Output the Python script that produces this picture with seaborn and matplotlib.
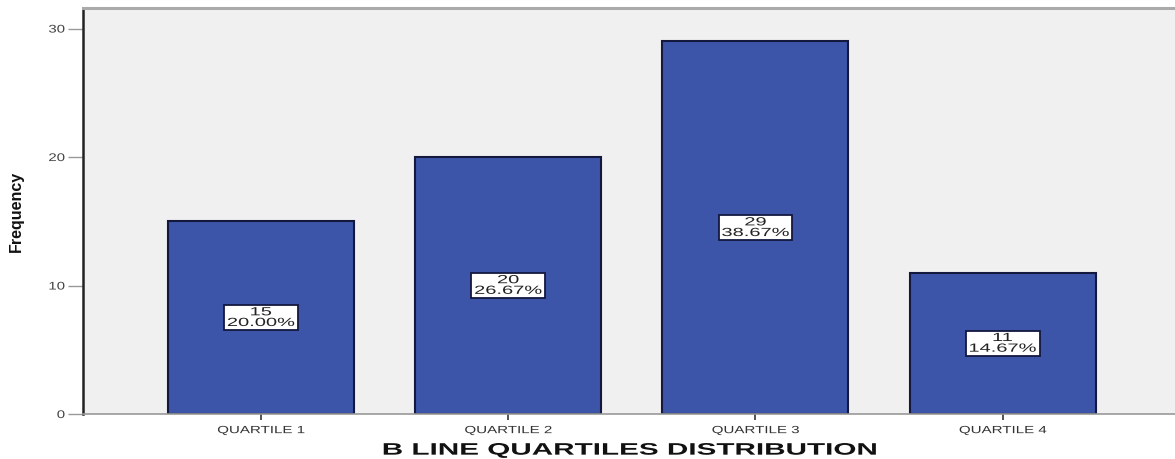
import matplotlib
matplotlib.use('Agg')
import matplotlib.pyplot as plt
import seaborn as sns
import pandas as pd
from matplotlib.patheffects import AbstractPathEffect
from matplotlib.transforms import Affine2D

# data
quartiles = ['QUARTILE 1', 'QUARTILE 2', 'QUARTILE 3', 'QUARTILE 4']
counts = [15, 20, 29, 11]
percents = [20.00, 26.67, 38.67, 14.67]
y_ticks = [0, 10, 20, 30]


class Stretch(AbstractPathEffect):
    """Widen text (the SPSS export uses a wide, squat font)."""

    def __init__(self, sx=1.0, sy=1.0, anchor='center'):
        super().__init__()
        self.sx, self.sy, self.anchor = sx, sy, anchor

    def draw_path(self, renderer, gc, tpath, affine, rgbFace=None):
        ext = tpath.get_extents(affine)
        cx = ext.x1 if self.anchor == 'right' else (ext.x0 + ext.x1) / 2
        cy = (ext.y0 + ext.y1) / 2
        t = affine + Affine2D().translate(-cx, -cy).scale(self.sx, self.sy).translate(cx, cy)
        renderer.draw_path(gc, tpath, t, rgbFace)


sns.set_style('white')
plt.rcParams['font.family'] = ['Liberation Sans', 'DejaVu Sans']

df = pd.DataFrame({'quartile': quartiles, 'count': counts, 'pct': percents})

fig = plt.figure(figsize=(11.75, 4.59), dpi=100)
ax = fig.add_axes([0.0706, 0.098, 0.93, 0.8846])
ax.set_facecolor('#f0f0f0')

sns.barplot(data=df, x='quartile', y='count', color='#3c55a9', saturation=1,
            width=0.753, edgecolor='#14183f', linewidth=1.5, ax=ax)

# value + percent boxes in the middle of each bar
for i, (c, p) in enumerate(zip(counts, percents)):
    t = ax.text(i, c / 2, f'{c}\n{p:.2f}%', ha='center', va='center', fontsize=8.5,
                linespacing=0.85, color='#222222',
                bbox=dict(boxstyle='square,pad=0.12', facecolor='white', edgecolor='#14183f', linewidth=1.3))
    t.set_path_effects([Stretch(sx=1.7)])
    t.get_bbox_patch().set_path_effects([Stretch(sx=1.72)])

ax.set_xlim(-0.72, 3.70)
ax.set_ylim(0, 31.6)
ax.set_yticks(y_ticks)
ax.tick_params(axis='y', length=11, width=1, color='#999999', labelsize=8, labelcolor='#444444',
               direction='out', left=True, pad=2)
ax.tick_params(axis='x', length=4, width=1.2, color='#333333', labelsize=7.5, labelcolor='#333333',
               direction='out', bottom=True, pad=4)

for tk in ax.xaxis.get_major_ticks():
    tk.label1.set_path_effects([Stretch(sx=1.45)])
for tk in ax.yaxis.get_major_ticks():
    tk.label1.set_path_effects([Stretch(sx=1.35, anchor='right')])

ax.spines['left'].set_color('#222222')
ax.spines['left'].set_linewidth(1.8)
ax.spines['bottom'].set_color('#999999')
ax.spines['bottom'].set_linewidth(1.2)
ax.spines['top'].set_color('#aaaaaa')
ax.spines['top'].set_linewidth(2.2)
ax.spines['right'].set_visible(False)

xl = ax.set_xlabel('B LINE QUARTILES DISTRIBUTION', fontsize=12, fontweight='bold', color='#111111')
xl.set_path_effects([Stretch(sx=1.78)])
ax.xaxis.set_label_coords(0.5, -0.089)
xl.set_va('center')

yl = ax.set_ylabel('Frequency', fontsize=11.5, fontweight='bold', color='#111111')
ax.yaxis.set_label_coords(-0.0613, 0.5)
yl.set_va('center')

fig.savefig('out.png', dpi=100)
